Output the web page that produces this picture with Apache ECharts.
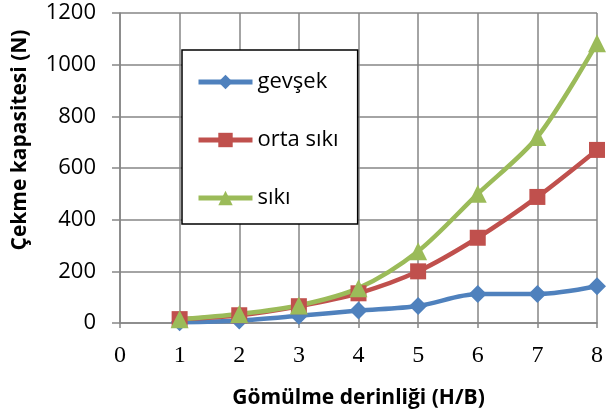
<!DOCTYPE html>
<html>
<head>
<meta charset="utf-8">
<script src="https://cdn.jsdelivr.net/npm/echarts@6/dist/echarts.min.js"></script>
<style>
  html, body { margin: 0; padding: 0; background: #fff; }
  #chart { width: 606px; height: 418px; }
</style>
</head>
<body>
<div id="chart"></div>
<script>
// derinlik (H/B)
const depths = [1, 2, 3, 4, 5, 6, 7, 8]
const gevsek = [3, 10, 28, 48, 66, 112, 112, 142]
const ortaSiki = [15, 30, 65, 115, 200, 330, 488, 670]
const siki = [15, 35, 68, 135, 278, 500, 720, 1083]

const xTicks = [0, 1, 2, 3, 4, 5, 6, 7, 8]
const yTicks = [0, 200, 400, 600, 800, 1000, 1200]

const uiFont = '"Open Sans", "Noto Sans", sans-serif'

const chart = echarts.init(document.getElementById('chart'))

function mkSeries(name, values, color, symbol, size) {
  return {
    name: name,
    type: 'line',
    smooth: 0.3,
    data: depths.map((d, i) => [d, values[i]]),
    symbol: symbol,
    symbolSize: size,
    lineStyle: { color: color, width: 4.5 },
    itemStyle: { color: color },
    emphasis: { disabled: true }
  }
}

const option = {
  animation: false,
  grid: { left: 120, right: 7, top: 13, bottom: 95 },
  legend: {
    orient: 'vertical',
    left: 182,
    top: 50,
    itemWidth: 54,
    itemHeight: 18,
    itemGap: 36,
    padding: [21, 19, 15, 14],
    borderColor: '#000',
    borderWidth: 1.5,
    backgroundColor: '#fff',
    lineStyle: { width: 5 },
    textStyle: { fontFamily: uiFont, fontSize: 22, color: '#000' },
    data: ['gevşek', 'orta sıkı', 'sıkı']
  },
  xAxis: {
    type: 'value',
    min: xTicks[0],
    max: xTicks[xTicks.length - 1],
    interval: 1,
    axisLine: { show: true, lineStyle: { color: '#868686', width: 1.5 } },
    axisTick: { show: true, length: 5, lineStyle: { color: '#868686', width: 1.5 } },
    axisLabel: { fontFamily: '"Liberation Serif", serif', fontSize: 24, color: '#000', margin: 21 },
    splitLine: { show: true, lineStyle: { color: '#868686', width: 1.5 } },
    name: 'Gömülme derinliği (H/B)',
    nameLocation: 'middle',
    nameGap: 65,
    nameTextStyle: { fontFamily: uiFont, fontSize: 21, fontWeight: 'bold', color: '#000' }
  },
  yAxis: {
    type: 'value',
    min: yTicks[0],
    max: yTicks[yTicks.length - 1],
    interval: 200,
    axisLine: { show: true, lineStyle: { color: '#868686', width: 1.5 } },
    axisTick: { show: true, length: 8, lineStyle: { color: '#868686', width: 1.5 } },
    axisLabel: {
      fontFamily: uiFont, fontSize: 22, color: '#000', margin: 24,
      formatter: v => String(v)
    },
    splitLine: { show: true, lineStyle: { color: '#868686', width: 1.5 } }
  },
  graphic: [
    {
      type: 'text',
      x: 20,
      y: 140,
      rotation: Math.PI / 2,
      style: {
        text: 'Çekme kapasitesi (N)',
        fontFamily: uiFont,
        fontSize: 21,
        fontWeight: 'bold',
        fill: '#000',
        align: 'center',
        verticalAlign: 'middle'
      }
    }
  ],
  series: [
    mkSeries('gevşek', gevsek, '#4F81BD', 'diamond', 18),
    mkSeries('orta sıkı', ortaSiki, '#C0504D', 'rect', 16),
    mkSeries('sıkı', siki, '#9BBB59', 'triangle', 18)
  ]
}

chart.setOption(option)
</script>
</body>
</html>
